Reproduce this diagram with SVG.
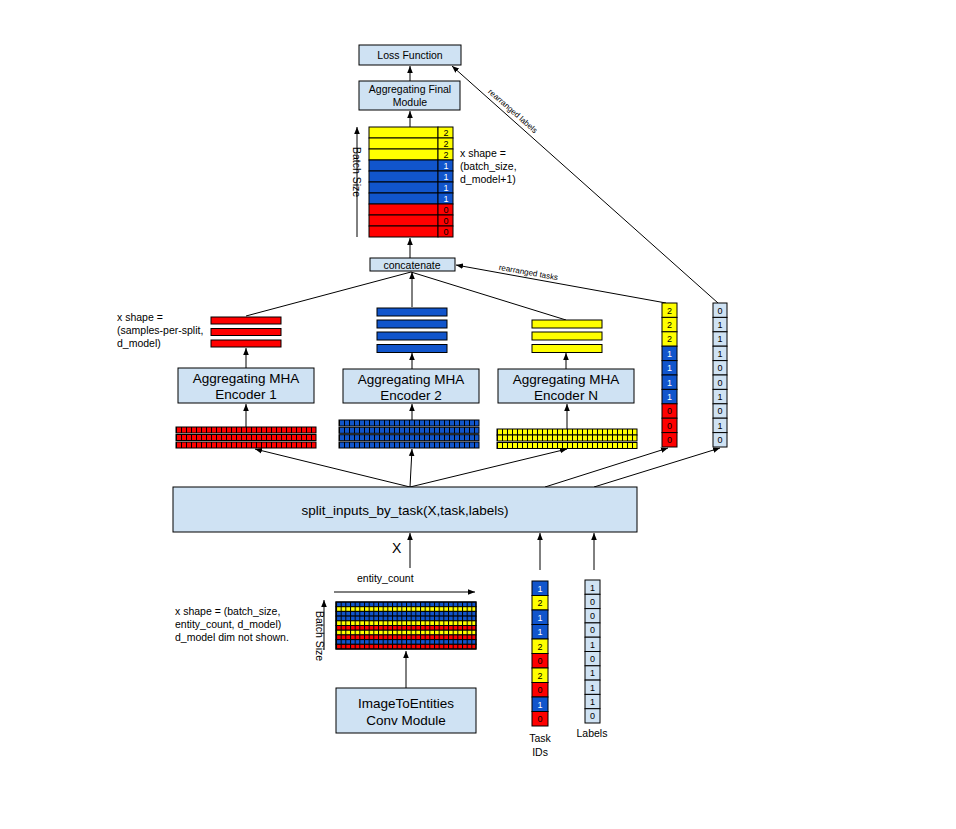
<svg xmlns="http://www.w3.org/2000/svg" width="956" height="829" viewBox="0 0 956 829">
<style>
text { font-family: "Liberation Sans", Arial, sans-serif; fill: #000; }
.box { fill: #cfe2f3; stroke: #000; stroke-width: 1; }
.c { stroke: #000; stroke-width: 1; fill: none; }
.ca { stroke: #000; stroke-width: 1; fill: none; marker-end: url(#ah); }
.r { fill: #ff0000; stroke: #000; stroke-width: 1; }
.b { fill: #1155cc; stroke: #000; stroke-width: 1; }
.y { fill: #ffff00; stroke: #000; stroke-width: 1; }
.lb { fill: #cfe2f3; stroke: #000; stroke-width: 1; }
.s { font-size: 10.5px; }
.L { font-size: 13.5px; }
.m { text-anchor: middle; }
.n { font-size: 9px; text-anchor: middle; }
.w { fill: #fff; }
.tiny { font-size: 8px; }
</style>
<defs>
<marker id="ah" viewBox="0 0 10 10" refX="10" refY="5" markerWidth="7" markerHeight="7" markerUnits="userSpaceOnUse" orient="auto">
<path d="M0,1 L10,5 L0,9 z" fill="#000"/>
</marker>
<pattern id="g1" patternUnits="userSpaceOnUse" x="176" y="0" width="5" height="5"><rect width="1" height="5" fill="#000"/></pattern>
<pattern id="g2" patternUnits="userSpaceOnUse" x="339" y="0" width="5" height="5"><rect width="1" height="5" fill="#000"/></pattern>
<pattern id="gN" patternUnits="userSpaceOnUse" x="497" y="0" width="5" height="5"><rect width="1" height="5" fill="#000"/></pattern>
<pattern id="gB" patternUnits="userSpaceOnUse" x="336" y="0" width="4.667" height="5"><rect width="1" height="5" fill="#000"/></pattern>
</defs>

<g id="connectors">
<line class="ca" x1="410" y1="81" x2="410" y2="66"/>
<line class="ca" x1="410" y1="127" x2="410" y2="111"/>
<line class="ca" x1="410" y1="258" x2="410" y2="238"/>
<line class="ca" x1="357" y1="237" x2="357" y2="127"/>
<line class="c" x1="246" y1="316" x2="411" y2="272"/>
<line class="ca" x1="412" y1="307" x2="412" y2="272"/>
<line class="c" x1="566" y1="320" x2="411" y2="272"/>
<line class="ca" x1="666" y1="303" x2="456" y2="265"/>
<line class="ca" x1="718" y1="303" x2="452" y2="66"/>
<line class="ca" x1="246" y1="368" x2="246" y2="348"/>
<line class="ca" x1="412" y1="369" x2="412" y2="353"/>
<line class="ca" x1="566" y1="369" x2="566" y2="353"/>
<line class="ca" x1="246" y1="427" x2="246" y2="404"/>
<line class="ca" x1="412" y1="420" x2="412" y2="404"/>
<line class="ca" x1="567" y1="429" x2="567" y2="404"/>
<line class="ca" x1="410" y1="487" x2="255" y2="449"/>
<line class="ca" x1="410" y1="487" x2="412" y2="449"/>
<line class="ca" x1="410" y1="487" x2="567" y2="449"/>
<line class="ca" x1="545" y1="487" x2="668" y2="448"/>
<line class="ca" x1="594" y1="487" x2="720" y2="448"/>
<line class="ca" x1="410" y1="568" x2="410" y2="533"/>
<line class="ca" x1="540" y1="570" x2="540" y2="533"/>
<line class="ca" x1="594" y1="570" x2="594" y2="533"/>
<line class="ca" x1="334" y1="592" x2="475" y2="592"/>
<line class="ca" x1="324" y1="650" x2="324" y2="600"/>
<line class="ca" x1="406" y1="688" x2="406" y2="651"/>
<text class="tiny" transform="translate(511,113) rotate(41.3)" text-anchor="middle">rearranged labels</text>
<text class="tiny" transform="translate(528,275) rotate(10.2)" text-anchor="middle">rearranged tasks</text>
</g>

<g id="loss">
<rect class="box" x="359" y="45" width="102" height="20"/>
<text class="s m" x="410" y="59">Loss Function</text>
</g>

<g id="final">
<rect class="box" x="359" y="81" width="101" height="29"/>
<text class="s m" x="410" y="93">Aggregating Final</text>
<text class="s m" x="410" y="106">Module</text>
</g>

<g id="stack">
<rect class="y" x="369" y="127" width="69" height="11"/><rect class="y" x="438" y="127" width="15" height="11"/><text class="n" x="446" y="136">2</text>
<rect class="y" x="369" y="138" width="69" height="11"/><rect class="y" x="438" y="138" width="15" height="11"/><text class="n" x="446" y="147">2</text>
<rect class="y" x="369" y="149" width="69" height="11"/><rect class="y" x="438" y="149" width="15" height="11"/><text class="n" x="446" y="158">2</text>
<rect class="b" x="369" y="160" width="69" height="11"/><rect class="b" x="438" y="160" width="15" height="11"/><text class="n w" x="446" y="169">1</text>
<rect class="b" x="369" y="171" width="69" height="11"/><rect class="b" x="438" y="171" width="15" height="11"/><text class="n w" x="446" y="180">1</text>
<rect class="b" x="369" y="182" width="69" height="11"/><rect class="b" x="438" y="182" width="15" height="11"/><text class="n w" x="446" y="191">1</text>
<rect class="b" x="369" y="193" width="69" height="11"/><rect class="b" x="438" y="193" width="15" height="11"/><text class="n w" x="446" y="202">1</text>
<rect class="r" x="369" y="204" width="69" height="11"/><rect class="r" x="438" y="204" width="15" height="11"/><text class="n" x="446" y="213">0</text>
<rect class="r" x="369" y="215" width="69" height="11"/><rect class="r" x="438" y="215" width="15" height="11"/><text class="n" x="446" y="224">0</text>
<rect class="r" x="369" y="226" width="69" height="11"/><rect class="r" x="438" y="226" width="15" height="11"/><text class="n" x="446" y="235">0</text>
<text class="s" transform="translate(353,147) rotate(90)">Batch Size</text>
<text class="s" x="460" y="157">x shape =</text>
<text class="s" x="460" y="170">(batch_size,</text>
<text class="s" x="460" y="183">d_model+1)</text>
</g>

<g id="concatenate">
<rect class="box" x="370" y="258" width="85" height="13"/>
<text class="s m" x="412" y="268.5">concatenate</text>
</g>

<g id="out1">
<rect class="r" x="211" y="317" width="70" height="7"/>
<rect class="r" x="211" y="328.5" width="70" height="7"/>
<rect class="r" x="211" y="340" width="70" height="7"/>
<text class="s" x="117" y="321">x shape =</text>
<text class="s" x="117" y="334">(samples-per-split,</text>
<text class="s" x="117" y="347">d_model)</text>
</g>

<g id="out2">
<rect class="b" x="377" y="308" width="70" height="8"/>
<rect class="b" x="377" y="320" width="70" height="8"/>
<rect class="b" x="377" y="332" width="70" height="8"/>
<rect class="b" x="377" y="344.5" width="70" height="8"/>
</g>

<g id="outN">
<rect class="y" x="532" y="320" width="70" height="8"/>
<rect class="y" x="532" y="332" width="70" height="8"/>
<rect class="y" x="532" y="344.5" width="70" height="8"/>
</g>

<g id="encoder1">
<rect class="box" x="178" y="368" width="136" height="35"/>
<text class="L m" x="246" y="383">Aggregating MHA</text>
<text class="L m" x="246" y="399">Encoder 1</text>
</g>
<g id="encoder2">
<rect class="box" x="343" y="369" width="136" height="34"/>
<text class="L m" x="411" y="384">Aggregating MHA</text>
<text class="L m" x="411" y="400">Encoder 2</text>
</g>
<g id="encoderN">
<rect class="box" x="498" y="369" width="136" height="34"/>
<text class="L m" x="566" y="384">Aggregating MHA</text>
<text class="L m" x="566" y="400">Encoder N</text>
</g>

<g id="in1">
<rect class="r" x="176" y="427" width="140" height="6"/><rect x="176" y="427" width="140" height="6" fill="url(#g1)"/>
<rect class="r" x="176" y="434.5" width="140" height="6"/><rect x="176" y="434.5" width="140" height="6" fill="url(#g1)"/>
<rect class="r" x="176" y="442" width="140" height="6"/><rect x="176" y="442" width="140" height="6" fill="url(#g1)"/>
</g>
<g id="in2">
<rect class="b" x="339" y="420" width="140" height="6"/><rect x="339" y="420" width="140" height="6" fill="url(#g2)"/>
<rect class="b" x="339" y="427.3" width="140" height="6"/><rect x="339" y="427.3" width="140" height="6" fill="url(#g2)"/>
<rect class="b" x="339" y="434.7" width="140" height="6"/><rect x="339" y="434.7" width="140" height="6" fill="url(#g2)"/>
<rect class="b" x="339" y="442" width="140" height="6"/><rect x="339" y="442" width="140" height="6" fill="url(#g2)"/>
</g>
<g id="inN">
<rect class="y" x="497" y="429" width="140" height="6"/><rect x="497" y="429" width="140" height="6" fill="url(#gN)"/>
<rect class="y" x="497" y="435" width="140" height="6"/><rect x="497" y="435" width="140" height="6" fill="url(#gN)"/>
<rect class="y" x="497" y="442.5" width="140" height="6"/><rect x="497" y="442.5" width="140" height="6" fill="url(#gN)"/>
</g>

<g id="rearranged-tasks">
<rect class="y" x="662" y="303" width="15" height="14.4"/><text class="n" x="669.5" y="313.5">2</text>
<rect class="y" x="662" y="317.4" width="15" height="14.4"/><text class="n" x="669.5" y="327.9">2</text>
<rect class="y" x="662" y="331.8" width="15" height="14.4"/><text class="n" x="669.5" y="342.3">2</text>
<rect class="b" x="662" y="346.2" width="15" height="14.4"/><text class="n w" x="669.5" y="356.7">1</text>
<rect class="b" x="662" y="360.6" width="15" height="14.4"/><text class="n w" x="669.5" y="371.1">1</text>
<rect class="b" x="662" y="375" width="15" height="14.4"/><text class="n w" x="669.5" y="385.5">1</text>
<rect class="b" x="662" y="389.4" width="15" height="14.4"/><text class="n w" x="669.5" y="399.9">1</text>
<rect class="r" x="662" y="403.8" width="15" height="14.4"/><text class="n" x="669.5" y="414.3">0</text>
<rect class="r" x="662" y="418.2" width="15" height="14.4"/><text class="n" x="669.5" y="428.7">0</text>
<rect class="r" x="662" y="432.6" width="15" height="14.4"/><text class="n" x="669.5" y="443.1">0</text>
</g>

<g id="rearranged-labels">
<rect class="lb" x="713" y="303" width="14" height="14.4"/><text class="n" x="720" y="313.5">0</text>
<rect class="lb" x="713" y="317.4" width="14" height="14.4"/><text class="n" x="720" y="327.9">1</text>
<rect class="lb" x="713" y="331.8" width="14" height="14.4"/><text class="n" x="720" y="342.3">1</text>
<rect class="lb" x="713" y="346.2" width="14" height="14.4"/><text class="n" x="720" y="356.7">1</text>
<rect class="lb" x="713" y="360.6" width="14" height="14.4"/><text class="n" x="720" y="371.1">0</text>
<rect class="lb" x="713" y="375" width="14" height="14.4"/><text class="n" x="720" y="385.5">0</text>
<rect class="lb" x="713" y="389.4" width="14" height="14.4"/><text class="n" x="720" y="399.9">1</text>
<rect class="lb" x="713" y="403.8" width="14" height="14.4"/><text class="n" x="720" y="414.3">0</text>
<rect class="lb" x="713" y="418.2" width="14" height="14.4"/><text class="n" x="720" y="428.7">1</text>
<rect class="lb" x="713" y="432.6" width="14" height="14.4"/><text class="n" x="720" y="443.1">0</text>
</g>

<g id="split">
<rect class="box" x="173" y="487" width="464" height="45"/>
<text class="L m" x="405" y="515">split_inputs_by_task(X,task,labels)</text>
</g>

<g id="x-label">
<text x="392" y="553" font-size="14px">X</text>
</g>

<g id="entity-grid">
<text class="s" x="357" y="582">entity_count</text>
<rect class="b" x="336" y="602" width="140" height="4.7"/>
<rect class="y" x="336" y="606.7" width="140" height="4.7"/>
<rect class="b" x="336" y="611.4" width="140" height="4.7"/>
<rect class="b" x="336" y="616.1" width="140" height="4.7"/>
<rect class="y" x="336" y="620.8" width="140" height="4.7"/>
<rect class="r" x="336" y="625.5" width="140" height="4.7"/>
<rect class="y" x="336" y="630.2" width="140" height="4.7"/>
<rect class="r" x="336" y="634.9" width="140" height="4.7"/>
<rect class="b" x="336" y="639.6" width="140" height="4.7"/>
<rect class="r" x="336" y="644.3" width="140" height="4.7"/>
<rect x="336" y="602" width="140" height="47" fill="url(#gB)"/>
<rect x="336" y="602" width="140" height="47" fill="none" stroke="#000" stroke-width="1.2"/>
<text class="s" transform="translate(316,611) rotate(90)">Batch Size</text>
<text class="s" x="175" y="615">x shape = (batch_size,</text>
<text class="s" x="175" y="628">entity_count, d_model)</text>
<text class="s" x="175" y="641">d_model dim not shown.</text>
</g>

<g id="conv">
<rect class="box" x="336" y="688" width="140" height="45"/>
<text class="L m" x="406" y="708">ImageToEntities</text>
<text class="L m" x="406" y="725">Conv Module</text>
</g>

<g id="task-ids">
<rect class="b" x="532" y="581" width="16" height="14.5"/><text class="n w" x="540" y="591.5">1</text>
<rect class="y" x="532" y="595.5" width="16" height="14.5"/><text class="n" x="540" y="606">2</text>
<rect class="b" x="532" y="610" width="16" height="14.5"/><text class="n w" x="540" y="620.5">1</text>
<rect class="b" x="532" y="624.5" width="16" height="14.5"/><text class="n w" x="540" y="635">1</text>
<rect class="y" x="532" y="639" width="16" height="14.5"/><text class="n" x="540" y="649.5">2</text>
<rect class="r" x="532" y="653.5" width="16" height="14.5"/><text class="n" x="540" y="664">0</text>
<rect class="y" x="532" y="668" width="16" height="14.5"/><text class="n" x="540" y="678.5">2</text>
<rect class="r" x="532" y="682.5" width="16" height="14.5"/><text class="n" x="540" y="693">0</text>
<rect class="b" x="532" y="697" width="16" height="14.5"/><text class="n w" x="540" y="707.5">1</text>
<rect class="r" x="532" y="711.5" width="16" height="14.5"/><text class="n" x="540" y="722">0</text>
<text class="s m" x="540" y="742">Task</text>
<text class="s m" x="540" y="756">IDs</text>
</g>

<g id="labels">
<rect class="lb" x="585" y="580" width="15" height="14.3"/><text class="n" x="592.5" y="590.5">1</text>
<rect class="lb" x="585" y="594.3" width="15" height="14.3"/><text class="n" x="592.5" y="604.8">0</text>
<rect class="lb" x="585" y="608.6" width="15" height="14.3"/><text class="n" x="592.5" y="619.1">0</text>
<rect class="lb" x="585" y="622.9" width="15" height="14.3"/><text class="n" x="592.5" y="633.4">0</text>
<rect class="lb" x="585" y="637.2" width="15" height="14.3"/><text class="n" x="592.5" y="647.7">1</text>
<rect class="lb" x="585" y="651.5" width="15" height="14.3"/><text class="n" x="592.5" y="662">0</text>
<rect class="lb" x="585" y="665.8" width="15" height="14.3"/><text class="n" x="592.5" y="676.3">1</text>
<rect class="lb" x="585" y="680.1" width="15" height="14.3"/><text class="n" x="592.5" y="690.6">1</text>
<rect class="lb" x="585" y="694.4" width="15" height="14.3"/><text class="n" x="592.5" y="704.9">1</text>
<rect class="lb" x="585" y="708.7" width="15" height="14.3"/><text class="n" x="592.5" y="719.2">0</text>
<text class="s m" x="592" y="737">Labels</text>
</g>
</svg>
